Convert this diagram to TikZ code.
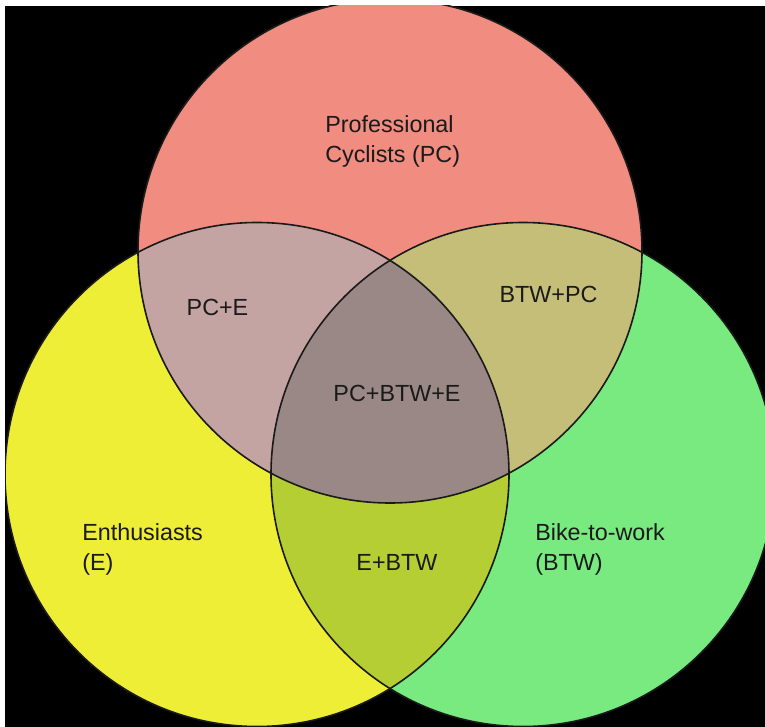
\documentclass[tikz,border=0pt]{standalone}
\usepackage{fontspec}
\setmainfont{Liberation Sans}
\definecolor{cPC}{HTML}{F08C80}
\definecolor{cE}{HTML}{EEEE36}
\definecolor{cBTW}{HTML}{78EA80}
\definecolor{cPCE}{HTML}{C4A4A2}
\definecolor{cBTWPC}{HTML}{C4BE78}
\definecolor{cEBTW}{HTML}{B4CE34}
\definecolor{cAll}{HTML}{9A8886}
\definecolor{ink}{HTML}{1A1A1A}
\tikzset{
  ring/.style={draw=ink, line width=1.2pt},
  lbl/.style={font=\fontsize{17.5}{22.5}\selectfont, text=ink, inner sep=0pt},
}
\begin{document}
\begin{tikzpicture}[x=0.75pt,y=-0.75pt]
\fill[white] (0,0) rectangle (765,727);
\fill[black] (5,6) rectangle (765,727);
\useasboundingbox (0,0) rectangle (765,727);
\coordinate (cpc) at (390,251);
\coordinate (ce) at (257,474.5);
\coordinate (cb) at (523,474.5);
\begin{scope}
\clip (5,6) rectangle (765,727);
\fill[cPC] (cpc) circle[radius=189pt];
\fill[cE] (ce) circle[radius=189pt];
\fill[cBTW] (cb) circle[radius=189pt];
\begin{scope}
\clip (cpc) circle[radius=189pt];
\fill[cPCE] (ce) circle[radius=189pt];
\fill[cBTWPC] (cb) circle[radius=189pt];
\clip (ce) circle[radius=189pt];
\fill[cAll] (cb) circle[radius=189pt];
\end{scope}
\begin{scope}
\clip (ce) circle[radius=189pt];
\clip (cb) circle[radius=189pt];
\clip (0,0) rectangle (765,727) (cpc) circle[radius=189pt];
\end{scope}
\begin{scope}[even odd rule]
\clip (ce) circle[radius=189pt];
\clip (0,0) rectangle (765,727) (cpc) circle[radius=189pt];
\fill[cEBTW] (cb) circle[radius=189pt];
\end{scope}
\draw[ring] (cpc) circle[radius=189pt];
\draw[ring] (ce) circle[radius=189pt];
\draw[ring] (cb) circle[radius=189pt];
\end{scope}
\node[lbl, align=left, anchor=west] (pc) at (325,141) {Professional\\Cyclists (PC)};
\node[lbl, align=left, anchor=west] (e) at (82,549) {Enthusiasts\\(E)};
\node[lbl, align=left, anchor=west] (btw) at (535,549) {Bike-to-work\\(BTW)};
\node[lbl] (pce) at (217.5,307) {PC+E};
\node[lbl] (btwpc) at (548.5,294.5) {BTW+PC};
\node[lbl] (all) at (397,393.5) {PC+BTW+E};
\node[lbl] (ebtw) at (397,562) {E+BTW};
\end{tikzpicture}
\end{document}
